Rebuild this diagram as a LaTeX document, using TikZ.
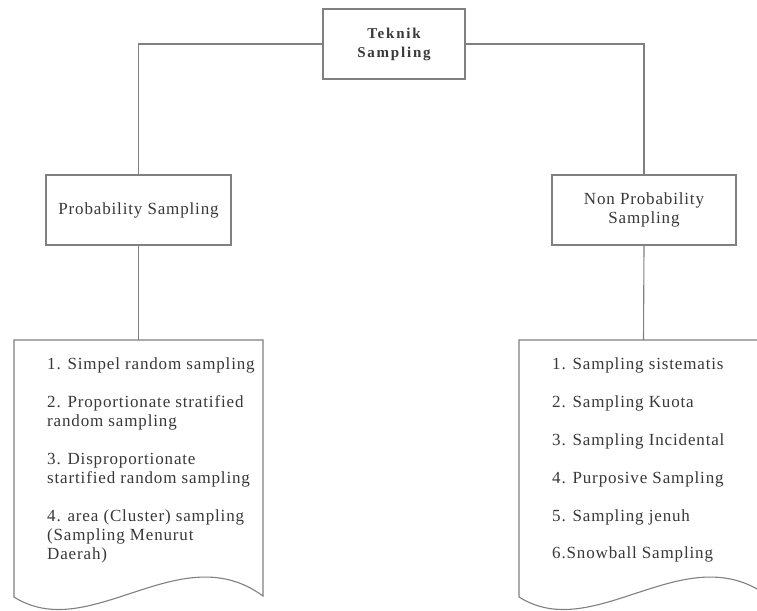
\documentclass[tikz,border=0pt]{standalone}
\usepackage{fontspec}
\setmainfont{Liberation Serif}
\newfontfamily\itemfont[LetterSpace=5]{Liberation Serif}
\newfontfamily\headfont[LetterSpace=12]{Liberation Serif}
\begin{document}
\begin{tikzpicture}[x=1pt,y=1pt,
  line/.style={draw=black!50,line width=1.1pt},
  box/.style={draw=black!50,line width=1.1pt,fill=white,rectangle,inner sep=0pt},
  txt/.style={text=black!78,font=\itemfont\fontsize{17}{19.3}\selectfont},
  item/.style={txt,anchor=base west,align=left,inner sep=0pt}]
\useasboundingbox (0,0) rectangle (757,-610);
\clip (0,0) rectangle (757,-610);

% top level and the two branches
\node[box,minimum width=142pt,minimum height=70pt] (root) at (394,-44) {};
\node[txt,align=center,font=\headfont\bfseries\fontsize{15}{19}\selectfont] (roott) at (394,-44) {Teknik\\Sampling};
\node[box,minimum width=185pt,minimum height=70pt] (prob) at (138.5,-210) {};
\node[txt] (probt) at (138.5,-210) {Probability Sampling};
\node[box,minimum width=184pt,minimum height=70pt] (nonp) at (644,-210) {};
\node[txt,align=center] (nonpt) at (644,-210) {Non Probability\\Sampling};

% document-shaped lists
\coordinate (ldoc) at (138.5,-340);
\coordinate (rdoc) at (643.5,-340);
\foreach \dx in {0,505}{
  \draw[line,fill=white] (14+\dx,-340) -- (263+\dx,-340) -- (263+\dx,-596)
    .. controls (180+\dx,-535) and (90+\dx,-645) .. (14+\dx,-597) -- cycle;
}

% connectors
\draw[line] (root.west) -| (prob.north);
\draw[line] (root.east) -| (nonp.north);
\draw[line] (prob.south) -- (ldoc);
\draw[line] (nonp.south) -- (rdoc);

% left list (base anchor sits on the last line of each entry)
\node[item] (l1) at (47,-369) {1. Simpel random sampling};
\node[item] (l2) at (47,-426.3) {2. Proportionate stratified\\random sampling};
\node[item] (l3) at (47,-483.3) {3. Disproportionate\\startified random sampling};
\node[item] (l4) at (47,-559.6) {4. area (Cluster) sampling\\(Sampling Menurut\\Daerah)};

% right list
\node[item] (r1) at (552,-369) {1. Sampling sistematis};
\node[item] (r2) at (552,-407) {2. Sampling Kuota};
\node[item] (r3) at (552,-445) {3. Sampling Incidental};
\node[item] (r4) at (552,-483) {4. Purposive Sampling};
\node[item] (r5) at (552,-521) {5. Sampling jenuh};
\node[item] (r6) at (552,-558) {6.Snowball Sampling};
\end{tikzpicture}
\end{document}
